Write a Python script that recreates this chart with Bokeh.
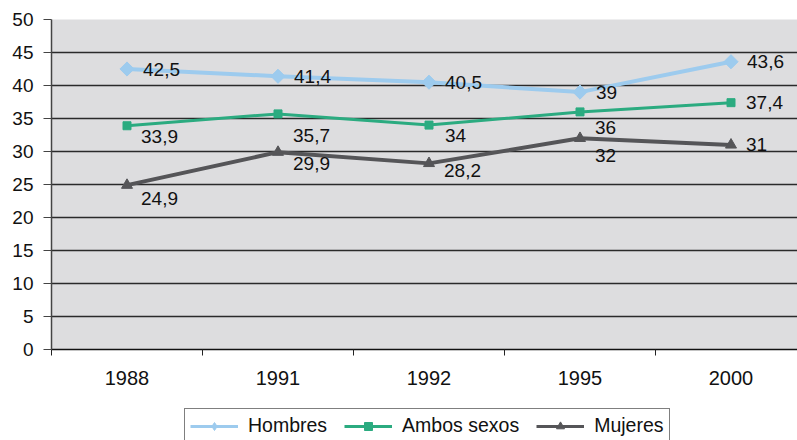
import numpy as np
from bokeh.plotting import figure
from bokeh.layouts import column
from bokeh.models import Range1d, FixedTicker, Legend, LegendItem, ColumnDataSource
from bokeh.core.properties import value
from bokeh.embed import file_html
from bokeh.resources import INLINE

years = ["1988", "1991", "1992", "1995", "2000"]
hombres = [42.5, 41.4, 40.5, 39, 43.6]
ambos = [33.9, 35.7, 34, 36, 37.4]
mujeres = [24.9, 29.9, 28.2, 32, 31]
y_ticks = [0, 5, 10, 15, 20, 25, 30, 35, 40, 45, 50]
series_names = ["Hombres", "Ambos sexos", "Mujeres"]

# label offsets (screen px) — style only
h_xoff = [16, 16, 16, 16, 16]
h_yoff = [0, 0, 0, 0, 0]
a_xoff = [14, 15, 16, 15, 15]
a_yoff = [11, 22, 10, 16, 0]
m_xoff = [14, 15, 15, 15, 15]
m_yoff = [13, 11, 7, 17, 0]

FONT = "Liberation Sans"
C_H = "#9DCBEE"
C_A = "#2BAB80"
C_M = "#555558"

xs = list(range(len(years)))

p = figure(width=797, height=400, output_backend="svg", toolbar_location=None,
           x_range=Range1d(-0.5, -0.5 + 746 / 151), y_range=Range1d(0, 50),
           min_border_left=51, min_border_top=19, min_border_right=0, min_border_bottom=51)
p.background_fill_color = "#DDDDDF"
p.border_fill_color = "white"
p.outline_line_color = None

p.xgrid.visible = False
p.ygrid.grid_line_color = "#2a2a2a"
p.ygrid.grid_line_width = 1.3
p.ygrid.ticker = FixedTicker(ticks=y_ticks)

p.yaxis.ticker = FixedTicker(ticks=y_ticks)
p.yaxis.axis_line_color = "#444444"
p.yaxis.axis_line_width = 1.5
p.yaxis.major_tick_line_color = "#444444"
p.yaxis.major_tick_out = 8
p.yaxis.major_tick_in = 0
p.yaxis.minor_tick_line_color = None
p.yaxis.major_label_text_font = FONT
p.yaxis.major_label_text_font_size = "19px"
p.yaxis.major_label_text_color = "#111111"
p.yaxis.major_label_standoff = 10

p.xaxis.ticker = FixedTicker(ticks=xs, minor_ticks=[i - 0.5 for i in range(len(years) + 1)])
p.xaxis.major_label_overrides = {i: y for i, y in enumerate(years)}
p.xaxis.major_tick_line_color = None
p.xaxis.minor_tick_line_color = "#222222"
p.xaxis.minor_tick_out = 6
p.xaxis.minor_tick_in = 0
p.xaxis.axis_line_color = "#111111"
p.xaxis.axis_line_width = 1.3
p.xaxis.major_label_text_font = FONT
p.xaxis.major_label_text_font_size = "20px"
p.xaxis.major_label_text_color = "#111111"
p.xaxis.major_label_standoff = 15

def fmt(v):
    return ("%g" % v).replace(".", ",")

styles = [
    dict(color=C_H, lw=4, marker="square", angle=np.pi / 4, size=10),
    dict(color=C_A, lw=3, marker="square", angle=0, size=8),
    dict(color=C_M, lw=4, marker="triangle", angle=0, size=11),
]
legend_markers = [("diamond", 13), ("square", 7), ("triangle", 9)]
all_vals = [hombres, ambos, mujeres]

for vals, st in zip(all_vals, styles):
    p.line(xs, vals, line_color=st["color"], line_width=st["lw"])
    p.scatter(xs, vals, marker=st["marker"], angle=st["angle"], size=st["size"],
              fill_color=st["color"], line_color=st["color"])

for vals, xo, yo in [(hombres, h_xoff, h_yoff), (ambos, a_xoff, a_yoff), (mujeres, m_xoff, m_yoff)]:
    src = ColumnDataSource(dict(x=xs, y=vals, t=[fmt(v) for v in vals], xo=xo, yo=yo))
    p.text(x="x", y="y", text="t", x_offset="xo", y_offset="yo", source=src,
           text_font=value(FONT), text_font_size="19px", text_color="#111111",
           text_align="left", text_baseline="middle")

# legend strip (separate figure, same series, view kept away from the data)
lg = figure(width=797, height=40, output_backend="svg", toolbar_location=None,
            x_axis_location=None, y_axis_location=None,
            x_range=Range1d(100, 101), y_range=Range1d(100, 101),
            min_border_left=0, min_border_right=0, min_border_top=0, min_border_bottom=0)
lg.outline_line_color = None
lg.grid.visible = False
lg.background_fill_color = "white"
lg.border_fill_color = "white"

items = []
for name, vals, st, (mk, ms) in zip(series_names, all_vals, styles, legend_markers):
    r1 = lg.line(xs, vals, line_color=st["color"], line_width=3)
    r2 = lg.scatter(xs, vals, marker=mk, size=ms,
                    fill_color=st["color"], line_color=st["color"])
    items.append(LegendItem(label=name, renderers=[r1, r2]))

legend = Legend(items=items, orientation="horizontal", location=(133, -3))
legend.border_line_color = "black"
legend.border_line_width = 1.3
legend.background_fill_color = "white"
legend.background_fill_alpha = 1
legend.label_text_font = FONT
legend.label_text_font_size = "19.5px"
legend.label_text_color = "#111111"
legend.glyph_width = 48
legend.glyph_height = 20
legend.label_height = 20
legend.label_standoff = 10
legend.spacing = 17
legend.padding = 5
legend.margin = 0
lg.add_layout(legend, "center")

layout = column(p, lg, spacing=0)
open("out.html", "w").write(file_html(layout, INLINE))
